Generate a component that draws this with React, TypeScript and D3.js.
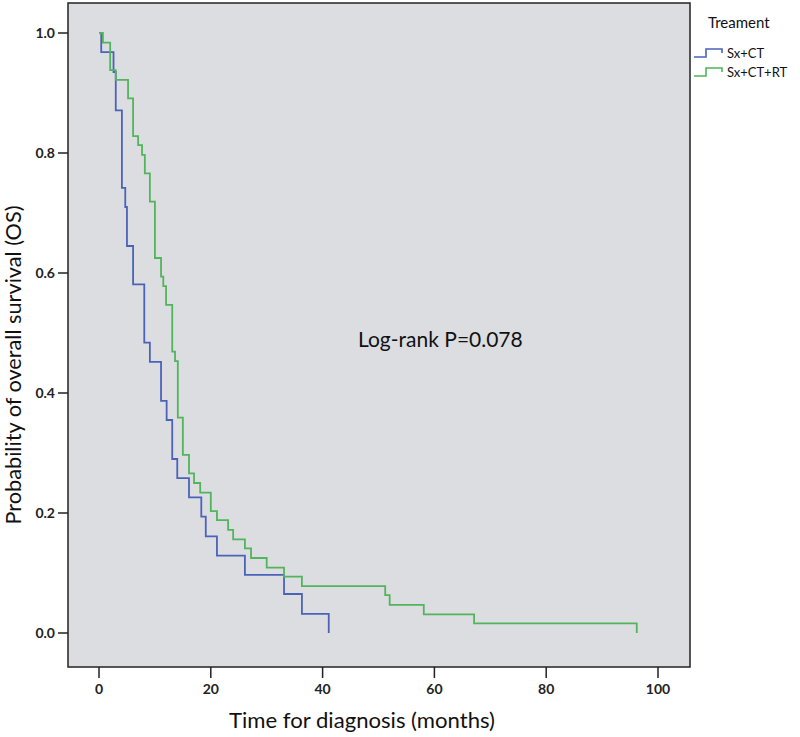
import React from 'react';
import * as d3 from 'd3';

// Kaplan-Meier steps (time in months, survival probability)
const sxCtTimes = [0, 0.4, 2.6, 3.0, 4.1, 4.7, 5.0, 6.1, 8.1, 9.1, 11.1, 12.1, 13.1, 14.0, 16.1, 18.3, 19.1, 21.1, 26.1, 33.1, 36.3, 41.1];
const sxCtSurv = [1.0, 0.968, 0.935, 0.871, 0.742, 0.71, 0.645, 0.581, 0.484, 0.452, 0.387, 0.355, 0.29, 0.258, 0.226, 0.194, 0.161, 0.129, 0.097, 0.065, 0.032, 0.0];

const sxCtRtTimes = [0, 0.7, 2.0, 3.0, 5.2, 6.1, 7.0, 7.7, 8.2, 9.1, 10.0, 11.1, 11.5, 12.0, 13.1, 13.6, 14.1, 15.0, 16.1, 17.0, 18.1, 20.0, 21.1, 23.1, 24.0, 26.1, 27.2, 30.0, 33.1, 36.3, 51.2, 52.0, 58.1, 67.1, 96.2];
const sxCtRtSurv = [1.0, 0.984, 0.938, 0.922, 0.891, 0.828, 0.813, 0.797, 0.766, 0.719, 0.625, 0.594, 0.578, 0.547, 0.469, 0.453, 0.359, 0.297, 0.266, 0.25, 0.234, 0.203, 0.188, 0.172, 0.156, 0.141, 0.125, 0.109, 0.094, 0.078, 0.063, 0.047, 0.031, 0.016, 0.0];

const xTicks = [0, 20, 40, 60, 80, 100];
const yTicks = [0, 0.2, 0.4, 0.6, 0.8, 1.0];

const seriesNames = ['Sx+CT', 'Sx+CT+RT'];
const seriesColors = ['#4a63b9', '#52b45c'];

const FONT = 'Lato, "Open Sans", sans-serif';

export default function App() {
  const frame = { left: 68, right: 690, top: 3, bottom: 667 };
  const x = d3.scaleLinear().domain([0, 100]).range([99, 658]);
  const y = d3.scaleLinear().domain([0, 1]).range([633, 33]);

  const line = d3
    .line<[number, number]>()
    .x(d => x(d[0]))
    .y(d => y(d[1]))
    .curve(d3.curveStepAfter);

  const series = [
    d3.zip(sxCtTimes, sxCtSurv) as [number, number][],
    d3.zip(sxCtRtTimes, sxCtRtSurv) as [number, number][],
  ];

  return (
    <div style={{ position: 'absolute', left: 0, top: 0 }}>
      <svg width={800} height={737} style={{ display: 'block', background: '#fff' }}>
        <rect
          x={frame.left}
          y={frame.top}
          width={frame.right - frame.left}
          height={frame.bottom - frame.top}
          fill="#dcdde1"
          stroke="#222"
          strokeWidth={1.5}
        />

        {series.map((pts, i) => (
          <path key={i} d={line(pts) || ''} fill="none" stroke={seriesColors[i]} strokeWidth={1.8} />
        ))}

        {/* y axis */}
        {yTicks.map(t => (
          <g key={t}>
            <line x1={58} x2={frame.left} y1={y(t)} y2={y(t)} stroke="#222" strokeWidth={1.5} />
            <text x={55} y={y(t)} dy="0.35em" textAnchor="end" fontFamily={FONT} fontSize={14} fontWeight={700} fill="#222">
              {d3.format('.1f')(t)}
            </text>
          </g>
        ))}

        {/* x axis */}
        {xTicks.map(t => (
          <g key={t}>
            <line x1={x(t)} x2={x(t)} y1={frame.bottom} y2={678} stroke="#222" strokeWidth={1.5} />
            <text x={x(t)} y={694} textAnchor="middle" fontFamily={FONT} fontSize={14} fontWeight={700} fill="#222">
              {t}
            </text>
          </g>
        ))}

        <text
          x={362}
          y={728}
          textAnchor="middle"
          fontFamily={FONT}
          fontSize={22}
          fill="#111"
          textLength={266}
          lengthAdjust="spacingAndGlyphs"
        >
          Time for diagnosis (months)
        </text>
        <text
          transform={`translate(21,365) rotate(-90)`}
          textAnchor="middle"
          fontFamily={FONT}
          fontSize={21}
          fill="#111"
          textLength={319}
          lengthAdjust="spacingAndGlyphs"
        >
          Probability of overall survival (OS)
        </text>

        <text x={358} y={347} fontFamily={FONT} fontSize={21} fill="#111">
          Log-rank P=0.078
        </text>

        {/* legend */}
        <text x={708} y={28} fontFamily={FONT} fontSize={15} fill="#111">
          Treament
        </text>
        {seriesNames.map((name, i) => {
          const yy = 57 + i * 19;
          return (
            <g key={name}>
              <path
                d={`M694,${yy}H706V${yy - 8}H722V${yy - 4}`}
                fill="none"
                stroke={seriesColors[i]}
                strokeWidth={1.6}
              />
              <text x={727} y={yy + 1} fontFamily={FONT} fontSize={13} fill="#111">
                {name}
              </text>
            </g>
          );
        })}
      </svg>
    </div>
  );
}
